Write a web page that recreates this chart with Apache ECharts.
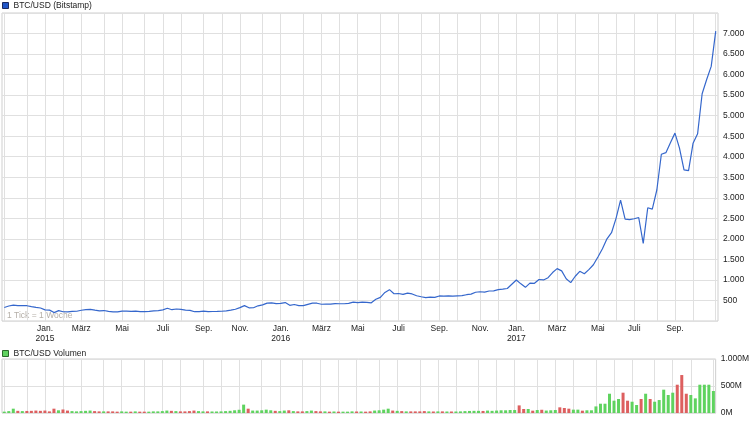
<!DOCTYPE html>
<html><head><meta charset="utf-8">
<script src="https://cdn.jsdelivr.net/npm/echarts@6/dist/echarts.min.js"></script>
<style>html,body{margin:0;padding:0;background:#fff}#c{width:752px;height:421px}</style>
</head><body><div id="c"></div>
<script>
// weekly (Sunday) observations, first week 2014-11-02
const firstWeek = [2014, 10, 2];
const weekCount = 158;

// BTC/USD weekly close (USD)
const price = [
 330,365,385,375,378,372,350,330,317,
 270,265,205,253,225,222,235,237,262,276,285,265,248,255,236,224,220,240,241,236,240,230,226,233,245,252,270,310,275,292,281,264,257,226,230,240,230,231,233,238,246,263,286,325,374,321,323,370,393,435,442,422,
 431,448,382,402,376,373,406,437,433,408,414,410,424,420,420,430,461,448,459,455,443,528,576,695,763,663,670,650,678,659,615,590,568,580,575,610,607,610,605,612,618,640,655,700,712,705,730,735,765,778,792,895,
 998,905,820,922,918,1010,1000,1055,1180,1275,1220,1030,935,1090,1210,1150,1250,1370,1560,1760,2000,2150,2500,2945,2480,2470,2490,2520,1890,2757,2725,3190,4060,4100,4340,4575,4210,3680,3660,4330,4560,5535,5880,6200,7060
];

// weekly volume (million)
const volume = [
 25,35,80,40,35,38,40,45,40,
 45,30,80,50,65,45,35,30,35,40,45,35,30,30,30,30,25,30,25,25,30,25,25,25,30,30,35,45,40,35,30,30,35,45,35,30,30,28,28,30,35,40,50,60,155,80,45,45,50,62,50,40,
 35,45,50,35,30,30,35,45,35,30,30,25,28,25,25,25,30,28,28,25,30,45,50,62,80,45,40,35,30,30,30,30,35,30,28,30,30,28,28,28,30,35,38,40,40,38,45,40,45,50,50,55,
 55,141,74,74,43,55,60,45,50,55,105,93,80,62,62,43,50,50,122,172,172,357,228,259,376,228,209,148,259,357,259,209,240,432,333,376,524,703,357,333,271,524,524,524,407
];

const monthNames = ['Jan.','Feb.','März','Apr.','Mai','Juni','Juli','Aug.','Sep.','Okt.','Nov.','Dez.'];

const weeks = [];
(function(){
  let t = Date.UTC(firstWeek[0], firstWeek[1], firstWeek[2]);
  for (let i = 0; i < weekCount; i++) { weeks.push(new Date(t).toISOString().slice(0,10)); t += 7*864e5; }
})();

const isMonthStart = v => +v.slice(8,10) <= 7;
const isLabel = (i, v) => i > 0 && i < weekCount - 1 && isMonthStart(v) && (+v.slice(5,7)) % 2 === 1;
const fmt = n => String(n).replace(/\B(?=(\d{3})+(?!\d))/g, '.');
const FONT = 'Liberation Sans, Arial, sans-serif';
const GRID_COLOR = '#e0e0e0';
const UP = '#5fd35f', DOWN = '#dd5f5f';

const chart = echarts.init(document.getElementById('c'));
const splitX = {show:true, interval:(i,v)=>isMonthStart(v), alignWithLabel:true, lineStyle:{color:GRID_COLOR, width:1}};

chart.setOption({
  animation:false,
  textStyle:{fontFamily:FONT},
  legend:[
    {data:['BTC/USD (Bitstamp)'], left:2, top:1, padding:0, icon:'rect', itemWidth:6, itemHeight:6,
     selectedMode:false, itemStyle:{borderColor:'#1c2a60', borderWidth:1},
     textStyle:{fontSize:8.5, color:'#222', fontFamily:FONT}},
    {data:['BTC/USD Volumen'], left:2, top:349, padding:0, icon:'rect', itemWidth:6, itemHeight:6,
     selectedMode:false, itemStyle:{borderColor:'#2a6a2a', borderWidth:1},
     textStyle:{fontSize:8.5, color:'#222', fontFamily:FONT}}
  ],
  grid:[
    {left:2, right:34, top:13, height:308, show:true, borderColor:'#cfcfcf', borderWidth:1},
    {left:2, right:34, top:359, height:54, show:true, borderColor:'#cfcfcf', borderWidth:1}
  ],
  xAxis:[
    {type:'category', gridIndex:0, data:weeks, boundaryGap:true,
     axisLine:{show:false}, axisTick:{show:false},
     axisLabel:{interval:isLabel, margin:3, fontSize:8.5, lineHeight:10, color:'#222', fontFamily:FONT,
       formatter:v=>{const m=+v.slice(5,7); return m===1 ? monthNames[0]+'\n'+v.slice(0,4) : monthNames[m-1];}},
     splitLine:splitX},
    {type:'category', gridIndex:1, data:weeks, boundaryGap:true,
     axisLine:{show:false}, axisTick:{show:false}, axisLabel:{show:false},
     splitLine:splitX}
  ],
  yAxis:[
    {type:'value', gridIndex:0, position:'right', min:0, max:7500, interval:500,
     axisLine:{show:false}, axisTick:{show:false},
     axisLabel:{showMinLabel:false, showMaxLabel:false, margin:5, fontSize:8.5, color:'#222', fontFamily:FONT, formatter:v=>fmt(v)},
     splitLine:{lineStyle:{color:GRID_COLOR}}},
    {type:'value', gridIndex:1, position:'right', min:0, max:1000, interval:500,
     axisLine:{show:false}, axisTick:{show:false},
     axisLabel:{margin:5, fontSize:8.5, color:'#222', fontFamily:FONT, formatter:v=>fmt(v)+'M'},
     splitLine:{lineStyle:{color:GRID_COLOR}}}
  ],
  graphic:[
    {type:'text', left:7, top:311, silent:true,
     style:{text:'1 Tick = 1 Woche', fill:'#b5afa8', font:'8.5px Liberation Sans'}}
  ],
  series:[
    {name:'BTC/USD (Bitstamp)', type:'line', xAxisIndex:0, yAxisIndex:0, data:price,
     symbol:'none', color:'#2156c8', lineStyle:{color:'#3567cc', width:1.2}},
    {name:'BTC/USD Volumen', type:'bar', xAxisIndex:1, yAxisIndex:1, barWidth:3, color:UP,
     data:volume.map((v,i)=>({value:v, itemStyle:{color: (i===0 || price[i]>=price[i-1]) ? UP : DOWN}}))}
  ]
});
</script></body></html>
